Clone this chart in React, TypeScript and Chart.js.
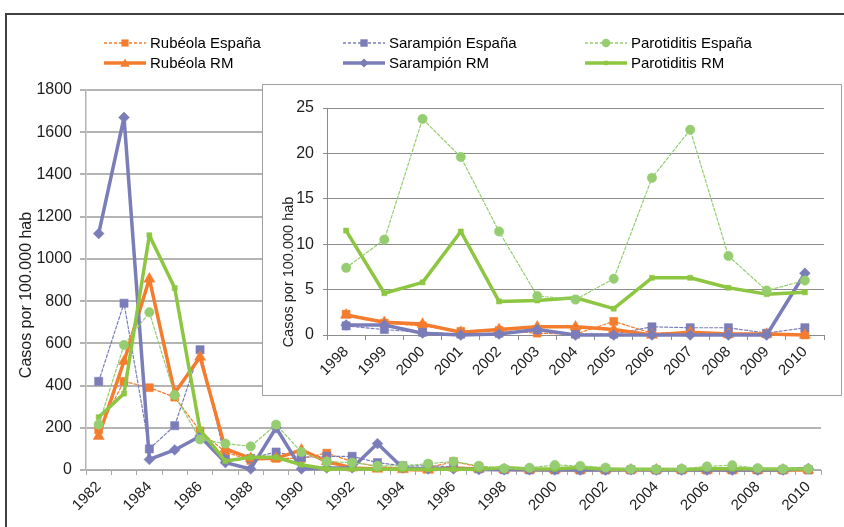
import React, { useEffect, useRef } from 'react';
import { Chart, registerables } from 'chart.js';

Chart.register(...registerables);

// ---------------- data ----------------
const years = [
  '1982', '1983', '1984', '1985', '1986', '1987', '1988', '1989', '1990', '1991',
  '1992', '1993', '1994', '1995', '1996', '1997', '1998', '1999', '2000', '2001',
  '2002', '2003', '2004', '2005', '2006', '2007', '2008', '2009', '2010',
];
const insetFirstYear = '1998';

const rubeolaEspana = [190, 420, 390, 345, 185, 85, 45, 55, 55, 80, 40, 15, 10, 10, 40, 15,
  2.3, 1.3, 1.0, 0.4, 0.5, 0.2, 0.1, 1.5, 0.2, 0.3, 0.1, 0.1, 0.0];
const sarampionEspana = [420, 790, 100, 210, 570, 50, 55, 85, 60, 65, 65, 35, 20, 20, 15, 5,
  1.0, 0.6, 0.3, 0.1, 0.2, 0.6, 0.1, 0.1, 0.9, 0.8, 0.8, 0.2, 0.8];
const parotiditisEspana = [215, 592, 747, 355, 145, 125, 112, 215, 85, 40, 35, 20, 20, 30, 40, 20,
  7.4, 10.5, 23.8, 19.6, 11.4, 4.3, 3.9, 6.2, 17.3, 22.6, 8.7, 4.9, 6.0];
const rubeolaRM = [160, 515, 905, 365, 535, 100, 55, 55, 95, 40, 10, 5, 2, 0, 10, 5,
  2.2, 1.4, 1.2, 0.3, 0.6, 0.9, 0.9, 0.6, 0.0, 0.3, 0.1, 0.1, 0.0];
const sarampionRM = [1120, 1670, 50, 95, 160, 35, 5, 200, 5, 10, 10, 125, 10, 5, 5, 2,
  1.1, 1.1, 0.2, 0.0, 0.1, 0.6, 0.0, 0.0, 0.0, 0.0, 0.0, 0.0, 6.8];
const parotiditisRM = [250, 362, 1112, 862, 190, 42, 60, 60, 25, 5, 5, 3, 3, 3, 3, 3,
  11.5, 4.6, 5.8, 11.4, 3.7, 3.8, 4.1, 2.9, 6.3, 6.3, 5.2, 4.5, 4.7];

const seriesLabels = ['Rubéola España', 'Sarampión España', 'Parotiditis España', 'Rubéola RM', 'Sarampión RM', 'Parotiditis RM'];
const seriesValues = [rubeolaEspana, sarampionEspana, parotiditisEspana, rubeolaRM, sarampionRM, parotiditisRM];

const mainYTicks = { min: 0, max: 1800, step: 200 };
const insetYTicks = { min: 0, max: 25, step: 5 };
const yTitle = 'Casos por 100.000 hab';

// ---------------- styles ----------------
const ORANGE = '#F47C2E';
const PURPLE = '#7B7DB9';
const GREEN = '#8DC641';
const GREEN_LIGHT = '#95CD70';
const TEXT = '#1e1e1e';
const FONT = "'Liberation Sans', Arial, Helvetica, sans-serif";

type Style = { color: string; dashed: boolean; width: number; point: string; radius: number; z: number };
const seriesStyles: Style[] = [
  { color: ORANGE, dashed: true, width: 1.2, point: 'rect', radius: 5.6, z: 0 },
  { color: PURPLE, dashed: true, width: 1.2, point: 'rect', radius: 5.8, z: 1 },
  { color: GREEN_LIGHT, dashed: true, width: 1.2, point: 'circle', radius: 4.7, z: 5 },
  { color: ORANGE, dashed: false, width: 3.5, point: 'triangle', radius: 6.4, z: 2 },
  { color: PURPLE, dashed: false, width: 3.5, point: 'rectRot', radius: 5.4, z: 3 },
  { color: GREEN, dashed: false, width: 3.5, point: 'rect', radius: 3.6, z: 4 },
];

const legendCols = [104, 343, 585];
const legendRows = [35, 55];

const sideTitlePlugin = {
  id: 'sideTitle',
  afterDraw(chart: any, _args: any, opts: any) {
    if (!opts || !opts.text) return;
    const ctx = chart.ctx;
    ctx.save();
    ctx.translate(opts.x, opts.y);
    ctx.rotate(-Math.PI / 2);
    ctx.font = `${opts.size}px ${FONT}`;
    ctx.fillStyle = TEXT;
    ctx.textAlign = 'center';
    ctx.textBaseline = 'middle';
    ctx.fillText(opts.text, 0, 0);
    ctx.restore();
  },
};

function buildDatasets(startIdx: number) {
  return seriesLabels.map((label, k) => {
    const s = seriesStyles[k];
    return {
      label,
      data: seriesValues[k].slice(startIdx),
      borderColor: s.color,
      backgroundColor: s.color,
      borderWidth: s.width,
      borderDash: s.dashed ? [3, 2] : [],
      borderJoinStyle: 'round',
      borderCapStyle: 'round',
      pointStyle: s.point,
      pointRadius: s.radius,
      pointBackgroundColor: s.color,
      pointBorderColor: s.color,
      pointBorderWidth: 0.5,
      tension: 0,
      fill: false,
      clip: false as any,
      order: -s.z,
    };
  });
}

function Marker({ point, r, color }: { point: string; r: number; color: string }) {
  const cx = 21;
  const cy = 8;
  if (point === 'circle') return <circle cx={cx} cy={cy} r={r} fill={color} />;
  if (point === 'rect') {
    const h = r * Math.SQRT1_2;
    return <rect x={cx - h} y={cy - h} width={2 * h} height={2 * h} fill={color} />;
  }
  if (point === 'triangle') {
    const pts = [0, 120, 240]
      .map((a) => {
        const t = (a * Math.PI) / 180;
        return `${cx + Math.sin(t) * r},${cy + 1 - Math.cos(t) * r}`;
      })
      .join(' ');
    return <polygon points={pts} fill={color} />;
  }
  const pts = `${cx},${cy - r} ${cx + r},${cy} ${cx},${cy + r} ${cx - r},${cy}`;
  return <polygon points={pts} fill={color} />;
}

const plainNumber = (v: any) => String(v);

export default function App() {
  const mainRef = useRef<HTMLCanvasElement | null>(null);
  const insetRef = useRef<HTMLCanvasElement | null>(null);

  useEffect(() => {
    const insetStart = years.indexOf(insetFirstYear);
    const main = new Chart(mainRef.current as HTMLCanvasElement, {
      type: 'line',
      data: { labels: years, datasets: buildDatasets(0) as any },
      plugins: [sideTitlePlugin as any],
      options: {
        animation: false,
        responsive: false,
        maintainAspectRatio: false,
        layout: { padding: { left: 0, top: 90, right: 23, bottom: 0 } },
        plugins: {
          legend: { display: false },
          tooltip: { enabled: false },
          sideTitle: { text: yTitle, x: 27, y: 295, size: 16 },
        } as any,
        scales: {
          x: {
            type: 'category',
            offset: true,
            grid: { display: true, drawOnChartArea: false, drawTicks: true, tickLength: 5, offset: true, color: '#a8a8a8', lineWidth: 1 },
            border: { display: true, color: '#a8a8a8', width: 1 },
            ticks: {
              autoSkip: false,
              minRotation: 45,
              maxRotation: 45,
              padding: 3,
              color: TEXT,
              font: { family: FONT, size: 15 },
              callback: (_v: any, i: number) => (i % 2 === 0 ? years[i] : ''),
            },
            afterFit: (s: any) => { s.height = 57; },
          },
          y: {
            min: mainYTicks.min,
            max: mainYTicks.max,
            ticks: { stepSize: mainYTicks.step, padding: 8, color: TEXT, font: { family: FONT, size: 16 }, callback: plainNumber },
            grid: { color: '#b4b4b4', lineWidth: 2, tickLength: 6, drawTicks: true },
            border: { display: true, color: '#b4b4b4', width: 1.5 },
            afterFit: (s: any) => { s.width = 86; },
          },
        } as any,
      },
    });

    const inset = new Chart(insetRef.current as HTMLCanvasElement, {
      type: 'line',
      data: { labels: years.slice(insetStart), datasets: buildDatasets(insetStart) as any },
      plugins: [sideTitlePlugin as any],
      options: {
        animation: false,
        responsive: false,
        maintainAspectRatio: false,
        layout: { padding: { left: 0, top: 23, right: 17, bottom: 0 } },
        plugins: {
          legend: { display: false },
          tooltip: { enabled: false },
          sideTitle: { text: yTitle, x: 26, y: 187, size: 14.5 },
        } as any,
        scales: {
          x: {
            type: 'category',
            offset: true,
            grid: { display: true, drawOnChartArea: false, drawTicks: true, tickLength: 5, offset: true, color: '#8c8c8c', lineWidth: 1 },
            border: { display: true, color: '#8c8c8c', width: 1 },
            ticks: {
              autoSkip: false,
              minRotation: 45,
              maxRotation: 45,
              padding: 3,
              color: TEXT,
              font: { family: FONT, size: 15 },
            },
            afterFit: (s: any) => { s.height = 60; },
          },
          y: {
            min: insetYTicks.min,
            max: insetYTicks.max,
            ticks: { stepSize: insetYTicks.step, padding: 9, color: TEXT, font: { family: FONT, size: 16 }, callback: plainNumber },
            grid: { color: '#8c8c8c', lineWidth: 1, tickLength: 4, drawTicks: true },
            border: { display: true, color: '#8c8c8c', width: 1 },
            afterFit: (s: any) => { s.width = 64; },
          },
        } as any,
      },
    });

    return () => {
      main.destroy();
      inset.destroy();
    };
  }, []);

  return (
    <div style={{ position: 'absolute', left: 0, top: 0, width: 844, height: 527, overflow: 'hidden', background: '#fff', fontFamily: FONT }}>
      <div style={{ position: 'absolute', left: 5, top: 13, width: 1000, height: 1000, border: '2px solid #404040' }} />
      <canvas ref={mainRef} width={844} height={527} style={{ position: 'absolute', left: 0, top: 0, width: 844, height: 527 }} />
      <div style={{ position: 'absolute', left: 262, top: 84, width: 580, height: 312, boxSizing: 'border-box', border: '1px solid #a0a0a0', background: '#fff' }}>
        <canvas ref={insetRef} width={578} height={310} style={{ display: 'block', width: 578, height: 310 }} />
      </div>
      {seriesLabels.map((label, k) => {
        const s = seriesStyles[k];
        return (
          <div key={label} style={{ position: 'absolute', left: legendCols[k % 3], top: legendRows[Math.floor(k / 3)], height: 16, display: 'flex', alignItems: 'center', fontSize: 15, color: '#000', whiteSpace: 'nowrap' }}>
            <svg width={42} height={16} style={{ display: 'block' }}>
              <line x1={0} y1={8} x2={42} y2={8} stroke={s.color} strokeWidth={s.dashed ? 1.3 : 3.5} strokeDasharray={s.dashed ? '3 2' : undefined} />
              <Marker point={s.point} r={s.dashed ? s.radius * 0.9 : s.radius * 0.85} color={s.color} />
            </svg>
            <span style={{ marginLeft: 4, lineHeight: '16px' }}>{label}</span>
          </div>
        );
      })}
    </div>
  );
}
